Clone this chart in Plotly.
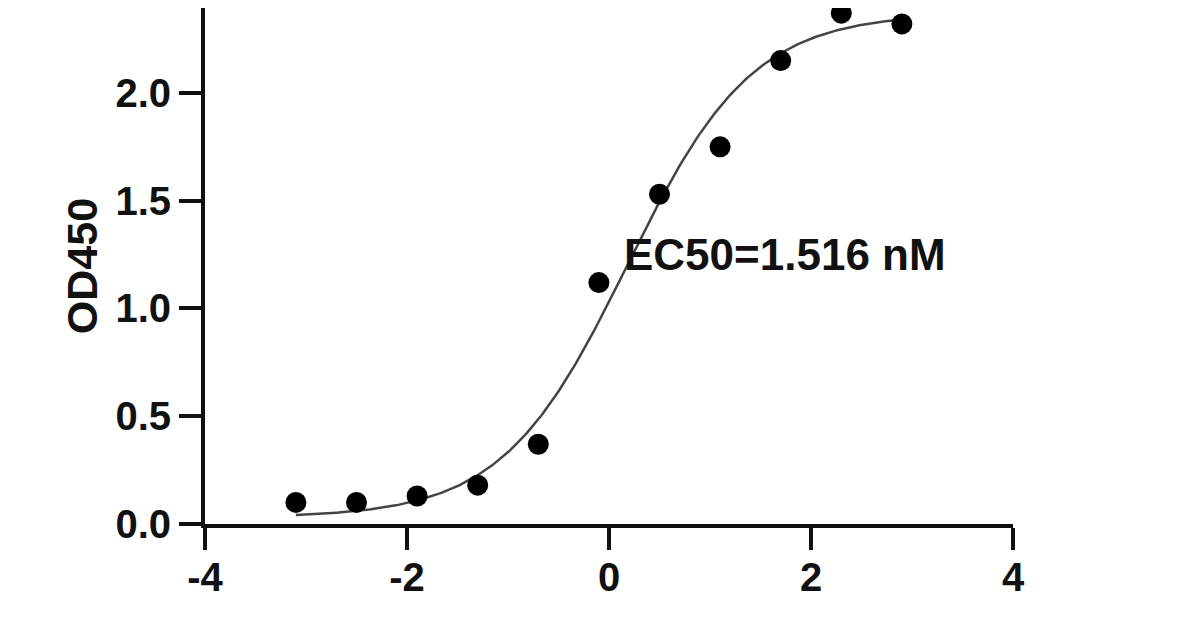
import numpy as np
import plotly.graph_objects as go

# log concentration (nM) and OD450 readings
log_conc = [-3.1, -2.5, -1.9, -1.3, -0.7, -0.1, 0.5, 1.1, 1.7, 2.3, 2.9]
od450 = [0.10, 0.10, 0.13, 0.18, 0.37, 1.12, 1.53, 1.75, 2.15, 2.37, 2.32]

# 4PL fit parameters
fit_bottom = 0.03
fit_top = 2.37
fit_ec50 = 1.516  # nM
fit_hill = 0.7

x_ticks = [-4, -2, 0, 2, 4]
x_labels = ["-4", "-2", "0", "2", "4"]
y_ticks = [0.0, 0.5, 1.0, 1.5, 2.0, 2.5]

FONT = "Liberation Sans"


def four_pl(x):
    return fit_bottom + (fit_top - fit_bottom) / (1 + 10 ** ((np.log10(fit_ec50) - x) * fit_hill))


xs = np.linspace(min(log_conc), max(log_conc), 300)

fig = go.Figure()
fig.add_trace(go.Scatter(x=xs, y=four_pl(xs), mode="lines",
                         line=dict(color="#444444", width=2.5), hoverinfo="skip"))
fig.add_trace(go.Scatter(x=log_conc, y=od450, mode="markers",
                         marker=dict(color="black", size=21), cliponaxis=False))

fig.add_annotation(x=0.13, y=1.25, xref="x", yref="y", text="EC50=1.516 nM",
                   showarrow=False, xanchor="left", yanchor="middle",
                   font=dict(family=FONT, size=44, color="#111", weight="bold"))

axis_common = dict(showline=True, linewidth=4, linecolor="#111", ticks="outside",
                   ticklen=22, tickwidth=4, tickcolor="#111", showgrid=False, zeroline=False,
                   automargin=False,
                   tickfont=dict(family=FONT, size=40, color="#111", weight="bold"))

fig.update_xaxes(range=[-4, 4], tickvals=x_ticks, ticktext=x_labels,
                 ticklabelstandoff=-7, **axis_common)
fig.update_yaxes(range=[0, 2.394], tickvals=y_ticks, tickformat=".1f",
                 title=dict(text="OD450", standoff=5,
                            font=dict(family=FONT, size=43, color="#111", weight="bold")),
                 **axis_common)

# page body adds an 8px margin, so the plot box is shifted to compensate
fig.update_layout(width=1198, height=630, showlegend=False,
                  plot_bgcolor="white", paper_bgcolor="white",
                  margin=dict(l=197, r=193, t=0, b=114))

fig.write_html("out.html")
